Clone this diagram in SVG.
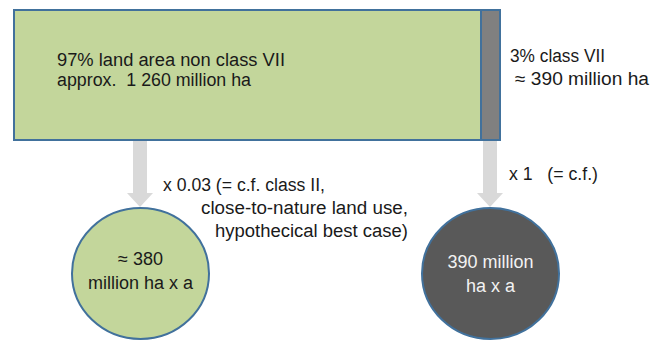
<svg xmlns="http://www.w3.org/2000/svg" width="660" height="341" viewBox="0 0 660 341">
<style>
  text { font-family: "Liberation Sans", Arial, sans-serif; font-size: 18px; fill: #1a1a1a; }
  .light { fill: #f2f2f2; }
  .outline { stroke: #41719C; stroke-width: 2; }
  .arrow { fill: #D9D9D9; stroke: none; }
</style>
<rect width="660" height="341" fill="#ffffff"/>
<g id="connectors">
  <polygon class="arrow" points="133,141 147,141 147,193 153,193 140,207 127,193 133,193"/>
  <polygon class="arrow" points="483,141 497,141 497,193 503,193 490,207 477,193 483,193"/>
</g>
<g id="land-area">
  <rect class="outline" x="14" y="10" width="467" height="130" fill="#C3D69B"/>
  <text x="57" y="66" textLength="228" lengthAdjust="spacingAndGlyphs">97% land area non class VII</text>
  <text x="57" y="86" textLength="194" lengthAdjust="spacingAndGlyphs" xml:space="preserve">approx.  1 260 million ha</text>
</g>
<g id="class-vii">
  <rect class="outline" x="481" y="10" width="19" height="130" fill="#808080"/>
  <text x="510" y="62" textLength="95" lengthAdjust="spacingAndGlyphs">3% class VII</text>
  <text x="515" y="85" textLength="134" lengthAdjust="spacingAndGlyphs">≈ 390 million ha</text>
</g>
<g id="label-left">
  <text x="163" y="191" textLength="162" lengthAdjust="spacingAndGlyphs">x 0.03 (= c.f. class II,</text>
  <text x="201" y="214" textLength="207" lengthAdjust="spacingAndGlyphs">close-to-nature land use,</text>
  <text x="215" y="237" textLength="193" lengthAdjust="spacingAndGlyphs">hypothecical best case)</text>
</g>
<g id="label-right">
  <text x="509" y="180" textLength="89" lengthAdjust="spacingAndGlyphs" xml:space="preserve">x 1   (= c.f.)</text>
</g>
<g id="result-left">
  <ellipse class="outline" cx="140.5" cy="273.5" rx="68.5" ry="65.5" fill="#C3D69B"/>
  <text x="140.5" y="265" text-anchor="middle">≈ 380</text>
  <text x="140.5" y="289" text-anchor="middle">million ha x a</text>
</g>
<g id="result-right">
  <ellipse class="outline" cx="490.5" cy="273.5" rx="68.5" ry="65.5" fill="#595959"/>
  <text class="light" x="490.5" y="268" text-anchor="middle">390 million</text>
  <text class="light" x="490.5" y="292" text-anchor="middle">ha x a</text>
</g>
</svg>
